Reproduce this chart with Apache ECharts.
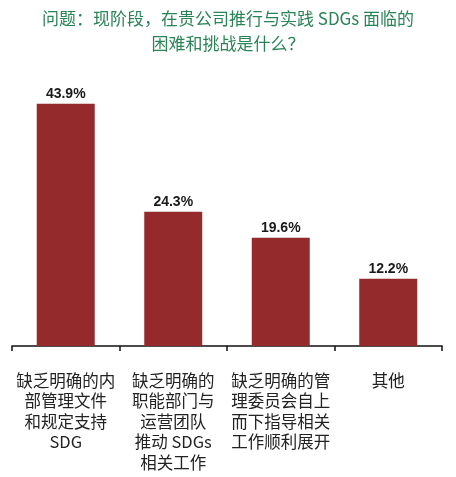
<!DOCTYPE html>
<html>
<head>
<meta charset="utf-8">
<script src="https://cdn.jsdelivr.net/npm/echarts@6/dist/echarts.min.js"></script>
<style>
  html, body { margin: 0; padding: 0; background: #fff; }
  #chart { width: 456px; height: 477px; }
</style>
</head>
<body>
<div id="chart"></div>
<script>
// categories and values
var categories = [
  '缺乏明确的内\n部管理文件\n和规定支持\nSDG',
  '缺乏明确的\n职能部门与\n运营团队\n推动 SDGs\n相关工作',
  '缺乏明确的管\n理委员会自上\n而下指导相关\n工作顺利展开',
  '其他'
];
var shares = [43.9, 24.3, 19.6, 12.2];

var myChart = echarts.init(document.getElementById('chart'), null, { renderer: 'canvas' });

var option = {
  backgroundColor: '#fff',
  title: {
    text: '问题：现阶段，在贵公司推行与实践 SDGs 面临的\n困难和挑战是什么？',
    left: 'center',
    top: 1,
    textStyle: {
      color: '#2a8456',
      fontSize: 17,
      fontWeight: 'normal',
      lineHeight: 25,
      fontFamily: 'Noto Sans CJK SC'
    }
  },
  grid: { left: 12, right: 14, top: 70, bottom: 131, containLabel: false },
  xAxis: {
    type: 'category',
    data: categories,
    axisLine: { lineStyle: { color: '#111', width: 1.5 } },
    axisTick: { show: true, length: 5, lineStyle: { color: '#111', width: 1.5 } },
    axisLabel: {
      interval: 0,
      margin: 24,
      color: '#222',
      fontSize: 16.5,
      lineHeight: 20.5,
      fontFamily: 'Noto Sans CJK SC'
    }
  },
  yAxis: {
    type: 'value',
    min: 0,
    max: 50,
    show: false,
    splitLine: { show: false }
  },
  series: [{
    type: 'bar',
    data: shares,
    barWidth: 58,
    itemStyle: { color: '#952a2d' },
    label: {
      show: true,
      position: 'top',
      distance: 3,
      formatter: function (p) { return p.value.toFixed(1) + '%'; },
      color: '#1a1a1a',
      fontSize: 14,
      fontWeight: 'bold',
      fontFamily: 'Liberation Sans'
    }
  }]
};

myChart.setOption(option);
window.addEventListener('resize', myChart.resize);
</script>
</body>
</html>
